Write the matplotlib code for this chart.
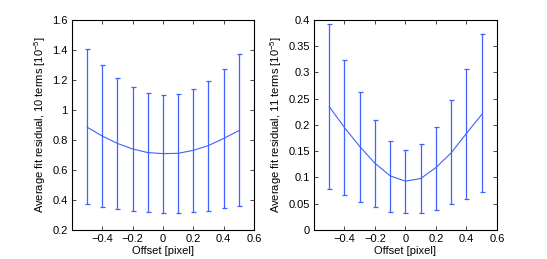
import matplotlib
matplotlib.use("Agg")
import matplotlib.pyplot as plt

plt.rcParams['font.family'] = ['Liberation Sans', 'DejaVu Sans']
plt.rcParams['mathtext.fontset'] = 'custom'
plt.rcParams['mathtext.rm'] = 'Liberation Sans'
plt.rcParams['mathtext.it'] = 'Liberation Sans'

# offsets (pixel)
offset = [-0.5, -0.4, -0.3, -0.2, -0.1, 0.0, 0.1, 0.2, 0.3, 0.4, 0.5]

# 10 terms
mean10 = [0.885, 0.826, 0.777, 0.740, 0.716, 0.709, 0.711, 0.731, 0.763, 0.810, 0.862]
upper10 = [1.405, 1.300, 1.215, 1.155, 1.115, 1.100, 1.107, 1.141, 1.195, 1.274, 1.373]
lower10 = [0.371, 0.353, 0.338, 0.325, 0.318, 0.311, 0.313, 0.318, 0.329, 0.345, 0.360]

# 11 terms
mean11 = [0.235, 0.195, 0.159, 0.127, 0.103, 0.093, 0.098, 0.119, 0.147, 0.184, 0.220]
upper11 = [0.392, 0.323, 0.262, 0.209, 0.170, 0.152, 0.163, 0.197, 0.247, 0.306, 0.373]
lower11 = [0.079, 0.066, 0.053, 0.043, 0.035, 0.032, 0.033, 0.039, 0.049, 0.059, 0.072]

blue = '#4060ff'

fig = plt.figure(figsize=(5.47, 2.59), dpi=100)
ax1 = fig.add_axes([0.1316, 0.112, 0.3327, 0.811])
ax2 = fig.add_axes([0.574, 0.112, 0.3346, 0.811])


def draw(ax, mean, lo, hi, ylabel, ylim, yticks, yticklabels):
    err = [[m - l for m, l in zip(mean, lo)], [h - m for m, h in zip(mean, hi)]]
    ax.errorbar(offset, mean, yerr=err, color=blue, lw=0.8, elinewidth=0.9,
                capsize=1.8, capthick=0.9)
    ax.set_xlim(-0.6, 0.6)
    ax.set_ylim(*ylim)
    ax.set_xticks([-0.4, -0.2, 0, 0.2, 0.4, 0.6])
    ax.set_xticklabels(['\u22120.4', '\u22120.2', '0', '0.2', '0.4', '0.6'])
    ax.set_yticks(yticks)
    ax.set_yticklabels(yticklabels)
    ax.tick_params(direction='in', top=True, right=True, labelsize=8,
                   length=3, width=0.5, pad=3)
    for s in ax.spines.values():
        s.set_linewidth(0.8)
    ax.set_xlabel('Offset [pixel]', fontsize=8, labelpad=1)
    ax.set_ylabel(ylabel, fontsize=8, labelpad=3)


draw(ax1, mean10, lower10, upper10,
     'Average fit residual, 10 terms [10$^{-5}$]', (0.2, 1.6),
     [0.2, 0.4, 0.6, 0.8, 1.0, 1.2, 1.4, 1.6],
     ['0.2', '0.4', '0.6', '0.8', '1', '1.2', '1.4', '1.6'])
draw(ax2, mean11, lower11, upper11,
     'Average fit residual, 11 terms [10$^{-5}$]', (0, 0.4),
     [0, 0.05, 0.1, 0.15, 0.2, 0.25, 0.3, 0.35, 0.4],
     ['0', '0.05', '0.1', '0.15', '0.2', '0.25', '0.3', '0.35', '0.4'])

fig.savefig('out.png', dpi=100)
